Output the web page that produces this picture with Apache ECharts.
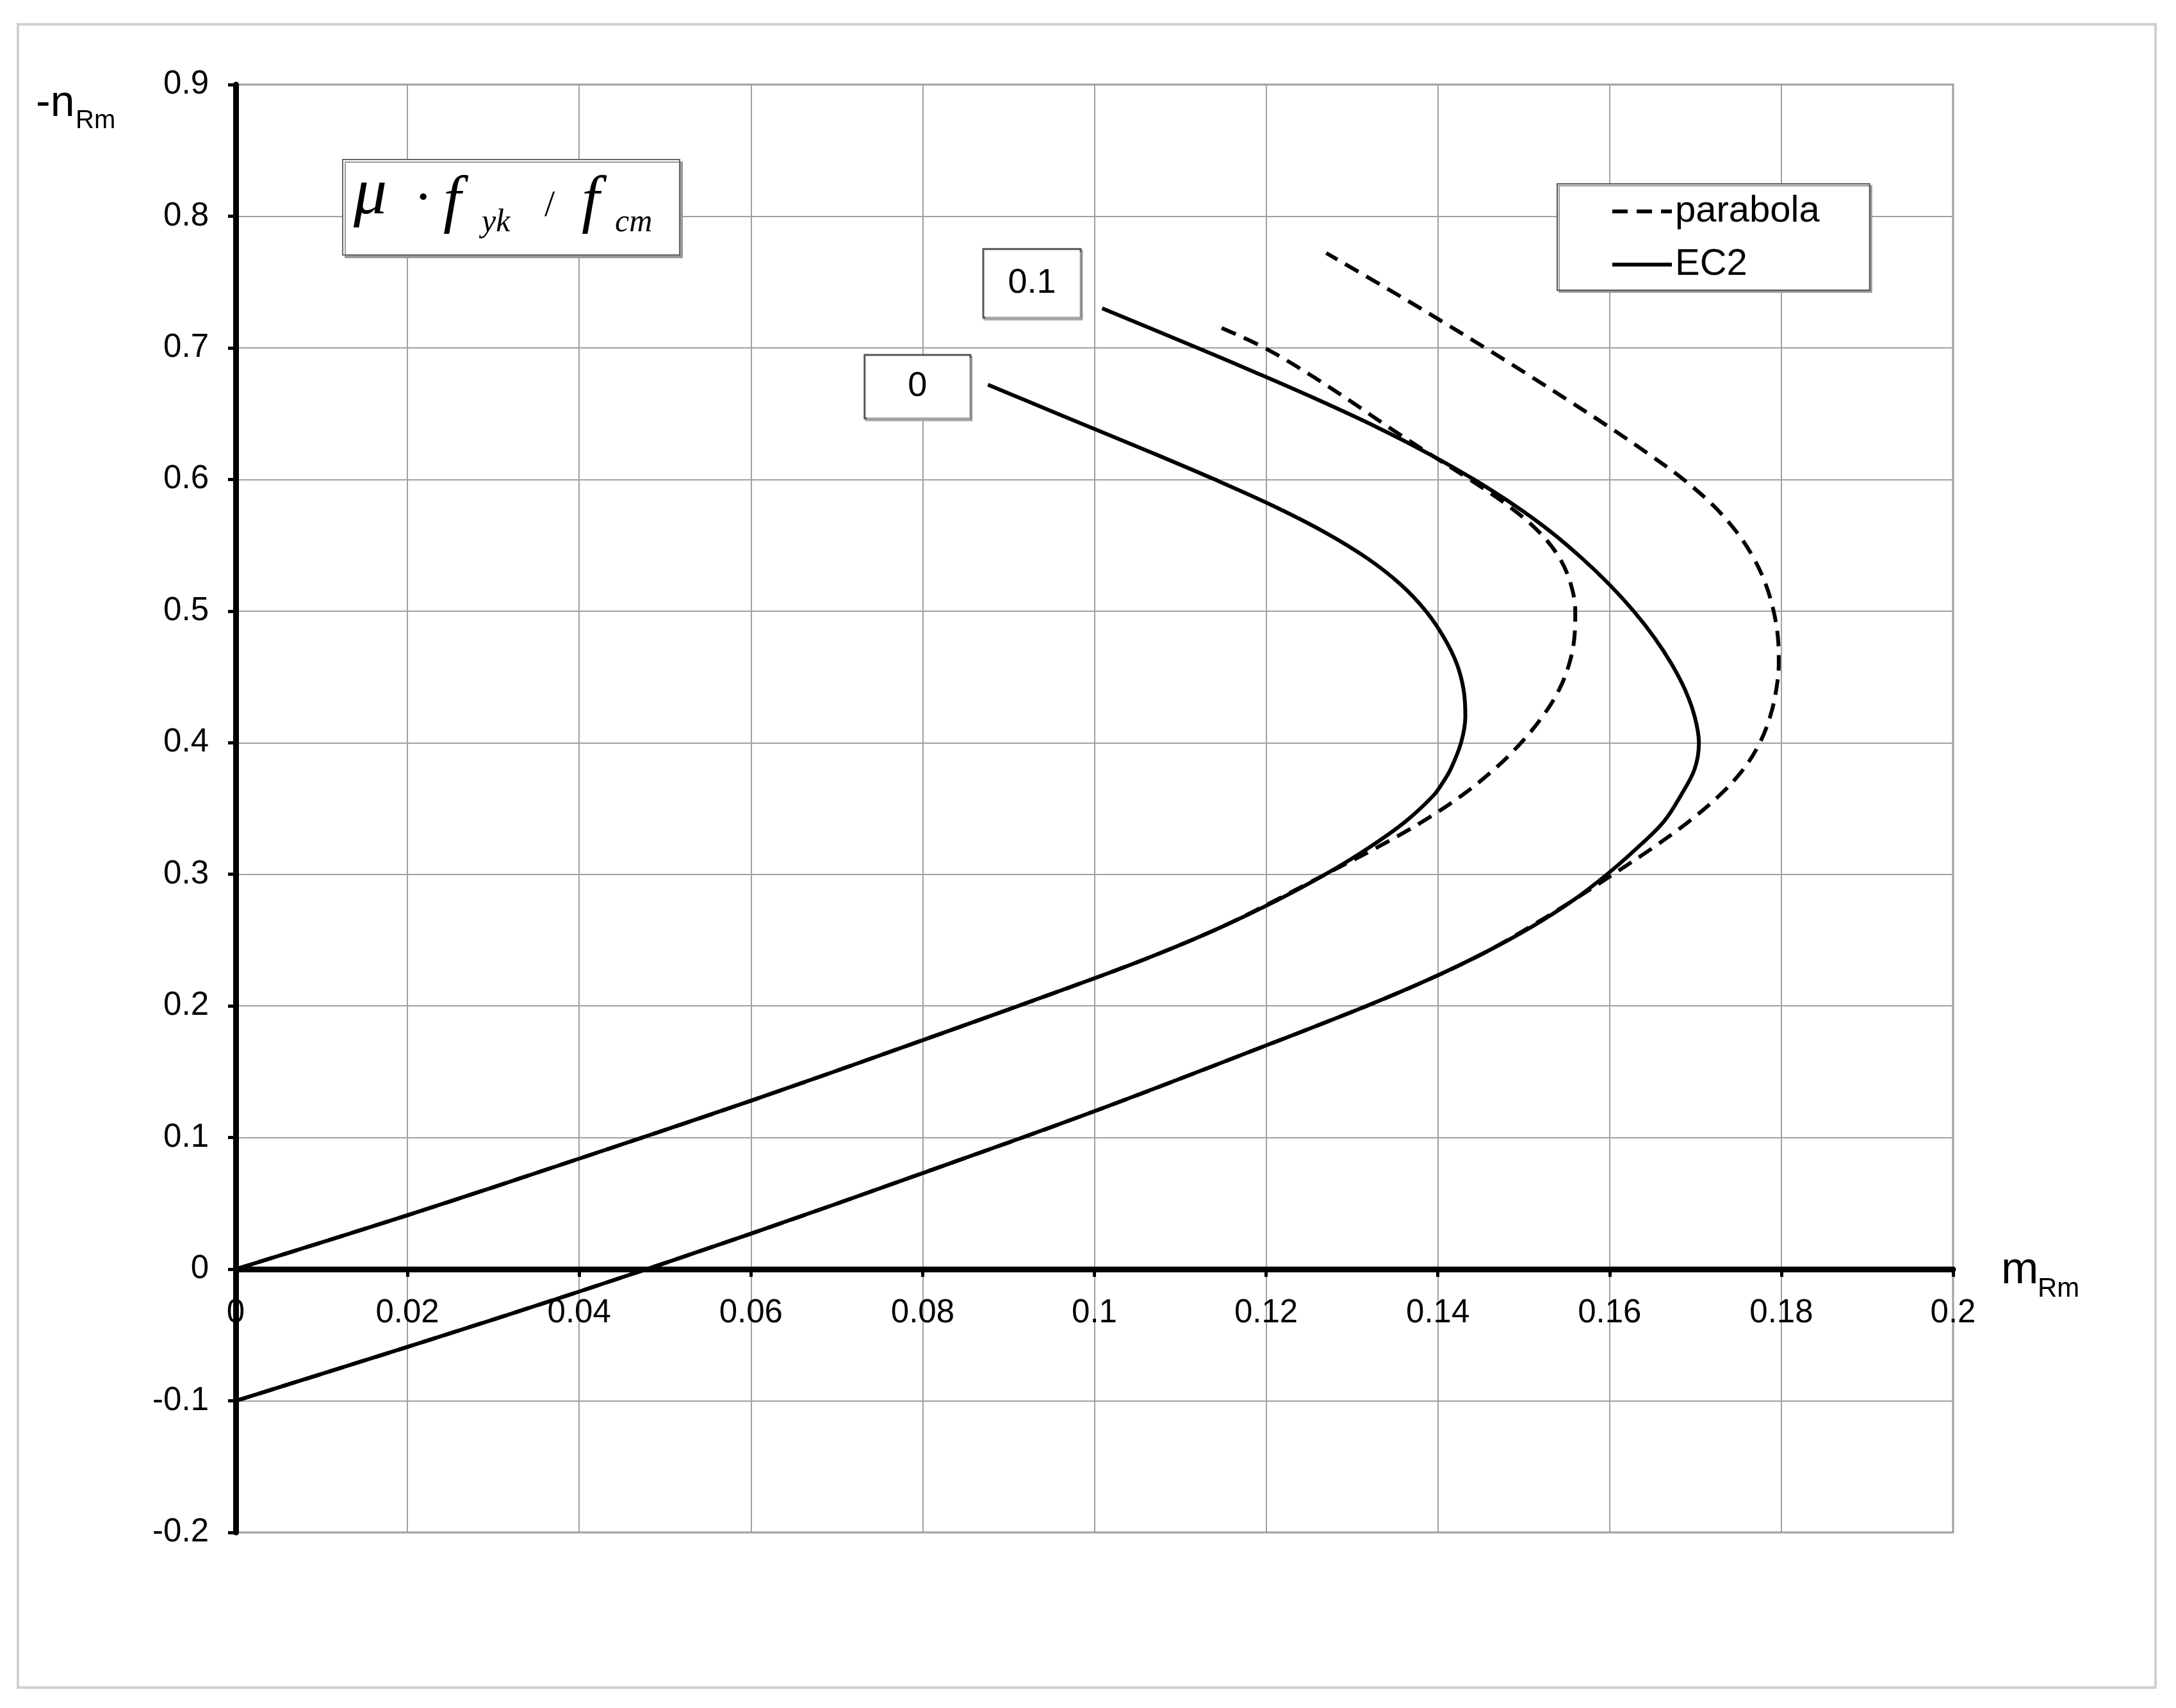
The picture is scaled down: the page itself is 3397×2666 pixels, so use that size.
<!DOCTYPE html>
<html>
<head>
<meta charset="utf-8">
<title>m-n interaction</title>
<script src="https://cdn.jsdelivr.net/npm/echarts@6/dist/echarts.min.js"></script>
<style>
  html, body { margin: 0; padding: 0; background: #fff; }
  #chart { width: 3397px; height: 2666px; }
</style>
</head>
<body>
<div id="chart"></div>
<script>
// axis ranges
var xMin = 0, xMax = 0.2, xStep = 0.02;
var yMin = -0.2, yMax = 0.9, yStep = 0.1;

// curve labels (mu * fyk / fcm)
var ratioLabels = ['0', '0.1'];
var legendNames = ['parabola', 'EC2'];

// [m_Rm, -n_Rm]
var ec2Ratio0 = [
    [0, 0], [0.02, 0.041], [0.04, 0.084], [0.06, 0.128], [0.08, 0.174], [0.10, 0.221],
    [0.1076, 0.24], [0.1148, 0.26], [0.1212, 0.28], [0.1269, 0.30], [0.1319, 0.32],
    [0.1362, 0.34], [0.1395, 0.36], [0.1406, 0.37], [0.1415, 0.38], [0.1427, 0.40],
    [0.1432, 0.42], [0.1430, 0.44], [0.1422, 0.46], [0.1407, 0.48], [0.1386, 0.50],
    [0.1357, 0.52], [0.1318, 0.54], [0.1268, 0.56], [0.1208, 0.58], [0.1140, 0.60],
    [0.1068, 0.62], [0.0994, 0.64], [0.0920, 0.66], [0.0876, 0.672]
];
var parabolaRatio0 = [
    [0, 0], [0.02, 0.041], [0.04, 0.084], [0.06, 0.128], [0.08, 0.174], [0.10, 0.221],
    [0.1076, 0.24], [0.1148, 0.26], [0.1210, 0.28], [0.1269, 0.30], [0.1328, 0.32],
    [0.1382, 0.34], [0.1428, 0.36], [0.1466, 0.38], [0.1497, 0.40], [0.1522, 0.42],
    [0.1541, 0.44], [0.1553, 0.46], [0.1559, 0.48], [0.1560, 0.50], [0.1555, 0.52],
    [0.1542, 0.54], [0.1518, 0.56], [0.1482, 0.58], [0.1437, 0.60], [0.1389, 0.62],
    [0.1342, 0.64], [0.1297, 0.66], [0.1250, 0.68], [0.1198, 0.70], [0.1145, 0.716]
];
var ec2Ratio01 = [
    [0, -0.1], [0.02, -0.059], [0.04, -0.017], [0.06, 0.027], [0.08, 0.073],
    [0.10, 0.120], [0.12, 0.170], [0.1317, 0.20], [0.1389, 0.22], [0.1453, 0.24],
    [0.1509, 0.26], [0.1557, 0.28], [0.1597, 0.30], [0.1632, 0.32], [0.1663, 0.34],
    [0.1683, 0.36], [0.1699, 0.38], [0.1704, 0.40], [0.1699, 0.42], [0.1688, 0.44],
    [0.1672, 0.46], [0.1652, 0.48], [0.1628, 0.50], [0.1600, 0.52], [0.1568, 0.54],
    [0.1532, 0.56], [0.1490, 0.58], [0.1442, 0.60], [0.1388, 0.62], [0.1328, 0.64],
    [0.1262, 0.66], [0.1192, 0.68], [0.1120, 0.70], [0.1009, 0.730]
];
var parabolaRatio01 = [
    [0, -0.1], [0.02, -0.059], [0.04, -0.017], [0.06, 0.027], [0.08, 0.073],
    [0.10, 0.120], [0.12, 0.170], [0.1317, 0.20], [0.1389, 0.22], [0.1453, 0.24],
    [0.1507, 0.26], [0.1557, 0.28], [0.1604, 0.30], [0.1650, 0.32], [0.1692, 0.34],
    [0.1728, 0.36], [0.1756, 0.38], [0.1775, 0.40], [0.1787, 0.42], [0.1794, 0.44],
    [0.1797, 0.46], [0.1796, 0.48], [0.1791, 0.50], [0.1782, 0.52], [0.1768, 0.54],
    [0.1748, 0.56], [0.1721, 0.58], [0.1686, 0.60], [0.1644, 0.62], [0.1599, 0.64],
    [0.1552, 0.66], [0.1504, 0.68], [0.1455, 0.70], [0.1405, 0.72], [0.1354, 0.74],
    [0.1270, 0.772]
];

var sans = '"Liberation Sans", Arial, sans-serif';
var serif = '"Liberation Serif", "Times New Roman", serif';

var chart = echarts.init(document.getElementById('chart'));

// boxed label at the last point of a curve
function endBox(points, text, padH, padV, dist, dy) {
    return {
        symbol: 'circle',
        symbolSize: 0,
        silent: true,
        data: [{
            coord: points[points.length - 1],
            label: {
                show: true,
                position: 'left',
                distance: dist,
                offset: [0, dy],
                formatter: text,
                fontFamily: sans,
                fontSize: 54,
                color: '#000',
                backgroundColor: '#fff',
                borderColor: '#555',
                borderWidth: 3,
                padding: [padV, padH, padV, padH],
                shadowColor: '#aaa',
                shadowOffsetX: 2,
                shadowOffsetY: 3
            }
        }]
    };
}

function curve(name, data, dashed, box) {
    var s = {
        name: name,
        type: 'line',
        data: data,
        symbol: 'none',
        showSymbol: false,
        smooth: 0.35,
        lineStyle: { color: '#000', width: 6, type: dashed ? [24, 14] : 'solid' },
        itemStyle: { color: '#000' },
        z: 5
    };
    if (box) s.markPoint = box;
    return s;
}

// small helper for the loose text pieces
function txt(text, x, y, font) {
    return { type: 'text', z: 50, style: { text: text, x: x, y: y, verticalAlign: 'middle', font: font, fill: '#000' } };
}

var option = {
    animation: false,
    backgroundColor: '#fff',
    grid: {
        left: 368, right: 348, top: 132, bottom: 274,
        show: true, borderColor: '#999', borderWidth: 3
    },
    legend: {
        data: legendNames,
        orient: 'vertical',
        left: 2431,
        top: 287,
        padding: [13, 78, 10, 83],
        itemWidth: 93,
        itemHeight: 30,
        itemGap: 23,
        backgroundColor: '#fff',
        borderColor: '#555',
        borderWidth: 2,
        shadowColor: '#999',
        shadowOffsetX: 3,
        shadowOffsetY: 3,
        itemStyle: { opacity: 0, borderWidth: 0, color: 'transparent' },
        lineStyle: { width: 6, color: '#000' },
        textStyle: { fontFamily: sans, fontSize: 58, color: '#000', lineHeight: 60 }
    },
    xAxis: {
        type: 'value',
        min: xMin, max: xMax, interval: xStep,
        axisLine: { onZero: true, lineStyle: { color: '#000', width: 9 } },
        axisTick: { show: true, length: 12, lineStyle: { color: '#000', width: 5 } },
        // labels sit under the zero line, not under the grid bottom
        axisLabel: { fontFamily: sans, fontSize: 51, color: '#000', margin: -368 },
        splitLine: { show: true, lineStyle: { color: '#a0a0a0', width: 2 } }
    },
    yAxis: {
        type: 'value',
        min: yMin, max: yMax, interval: yStep,
        axisLine: { onZero: true, lineStyle: { color: '#000', width: 9 } },
        axisTick: { show: true, length: 12, lineStyle: { color: '#000', width: 5 } },
        axisLabel: { fontFamily: sans, fontSize: 51, color: '#000', margin: 42 },
        splitLine: { show: true, lineStyle: { color: '#a0a0a0', width: 2 } }
    },
    graphic: [
        // outer frame
        { type: 'rect', z: -10, shape: { x: 28, y: 38, width: 3337, height: 2596 },
          style: { fill: 'none', stroke: '#d0d0d0', lineWidth: 4 } },
        // axis names
        txt('-n', 56, 162, '68px ' + sans),
        txt('Rm', 118, 189, '40px ' + sans),
        txt('m', 3124, 1984, '70px ' + sans),
        txt('Rm', 3181, 2012, '42px ' + sans),
        // formula box
        { type: 'rect', z: 49, shape: { x: 535, y: 249, width: 526, height: 149 },
          style: { fill: '#fff', stroke: '#666', lineWidth: 2,
                   shadowColor: '#999', shadowOffsetX: 4, shadowOffsetY: 4 } },
        txt('μ', 552, 306, 'italic 104px ' + serif),
        txt('·', 650, 311, 'bold 64px ' + serif),
        txt('f', 692, 318, 'italic 100px ' + serif),
        txt('yk', 752, 348, 'italic 50px ' + serif),
        txt('/', 850, 322, '58px ' + serif),
        txt('f', 908, 318, 'italic 100px ' + serif),
        txt('cm', 960, 348, 'italic 50px ' + serif)
    ],
    series: [
        curve(legendNames[0], parabolaRatio0, true),
        curve(legendNames[0], parabolaRatio01, true),
        curve(legendNames[1], ec2Ratio0, false, endBox(ec2Ratio0, ratioLabels[0], 66, 21, 29, 3)),
        curve(legendNames[1], ec2Ratio01, false, endBox(ec2Ratio01, ratioLabels[1], 37, 25, 35, -39))
    ]
};

chart.setOption(option);
</script>
</body>
</html>
